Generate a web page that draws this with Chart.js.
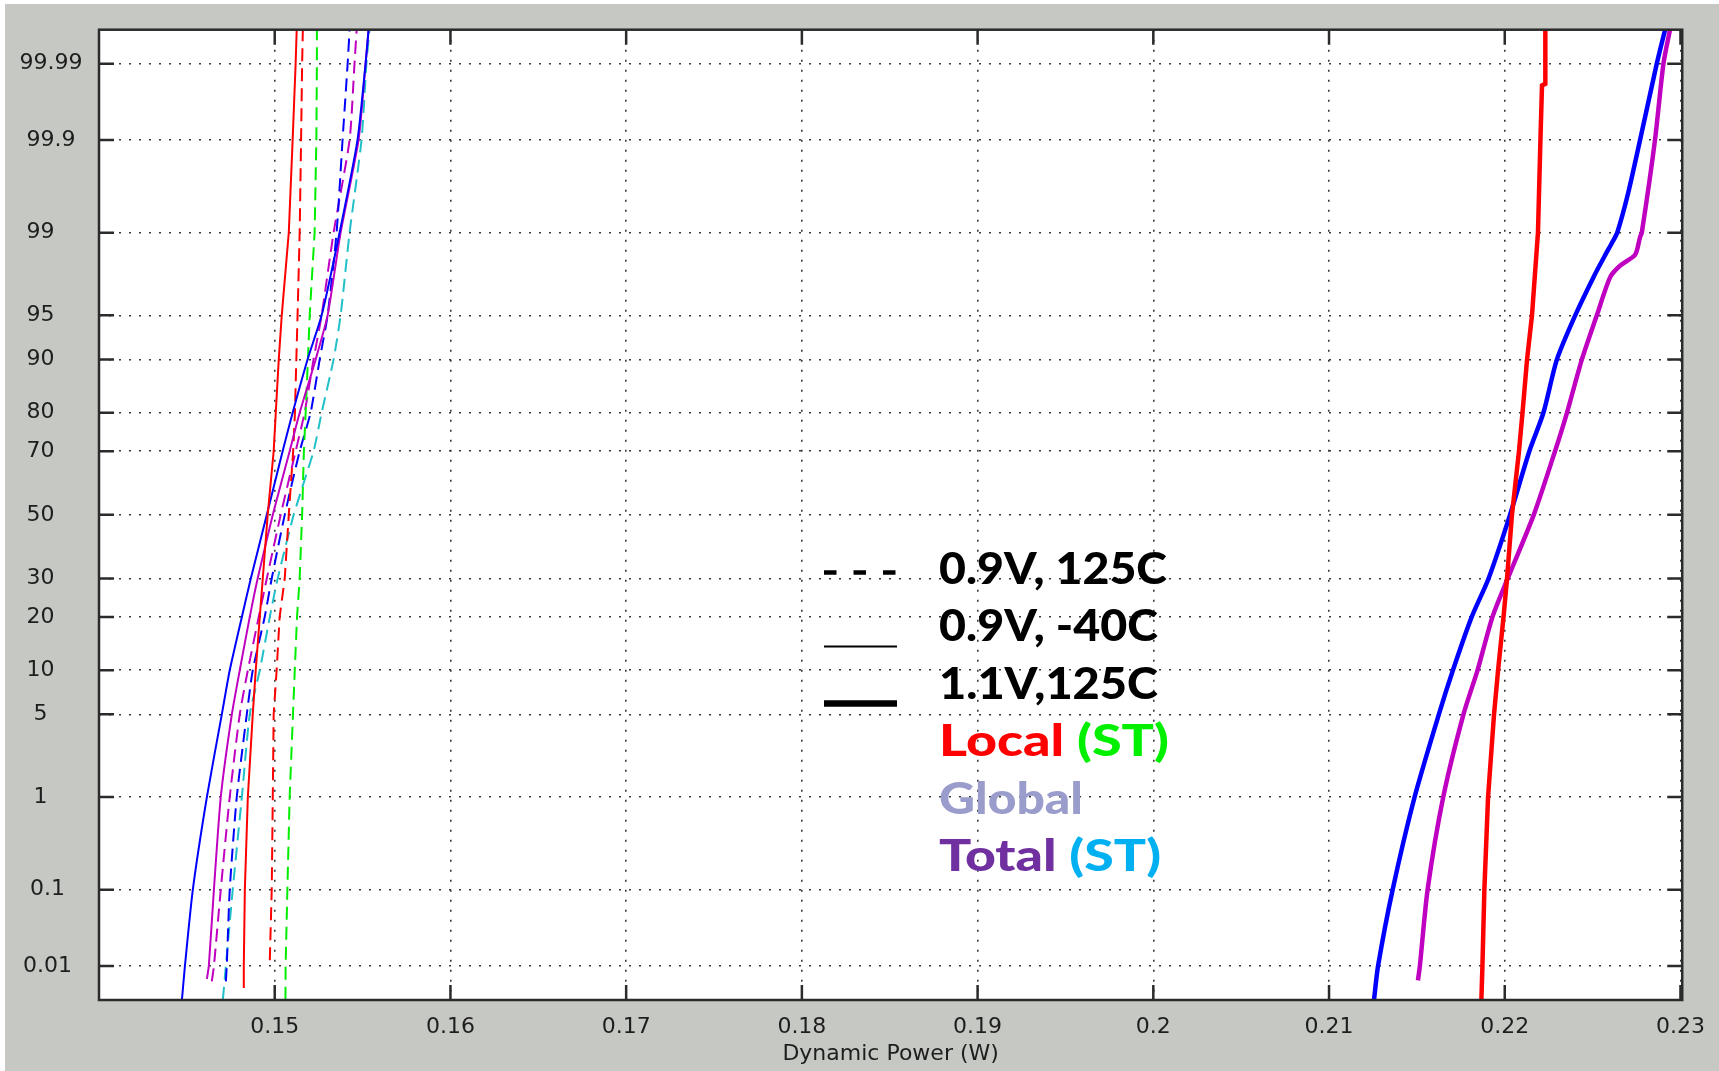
<!DOCTYPE html>
<html>
<head>
<meta charset="utf-8">
<title>Dynamic Power distribution</title>
<script src="https://cdn.jsdelivr.net/npm/chart.js@4.4.0/dist/chart.umd.min.js"></script>
<style>
  html, body { margin: 0; padding: 0; background: #ffffff; }
  #wrap { position: relative; width: 1719px; height: 1071px; }
  canvas { display: block; }
</style>
</head>
<body>
<div id="wrap"><canvas id="chart" width="1719" height="1071"></canvas></div>
<script>
// ---- axis ticks ----
const probTicks = [0.01, 0.1, 1, 5, 10, 20, 30, 50, 70, 80, 90, 95, 99, 99.9, 99.99];
// labels carry trailing blanks, as written by the original plot tool
const probTickLabels = ['0.01 ', '0.1 ', '1   ', '5   ', '10   ', '20   ', '30   ', '50   ',
                        '70   ', '80   ', '90   ', '95   ', '99   ', '99.9', '99.99'];
const powerTicks = [0.15, 0.16, 0.17, 0.18, 0.19, 0.2, 0.21, 0.22, 0.23];
const powerTickLabels = ['0.15', '0.16', '0.17', '0.18', '0.19', '0.2', '0.21', '0.22', '0.23'];

// ---- cumulative probability (%) / dynamic power (W) ----
const pctFull = [0.0032, 0.01, 0.1, 1, 5, 10, 20, 30, 50, 70, 80, 90, 95, 99, 99.9, 99.99, 99.9968];

// 0.9V, 125C (dashed)
const pctLocalHot = [0.012, 0.1, 1, 5, 10, 20, 30, 50, 70, 80, 90, 95, 99, 99.9, 99.99, 99.9968];
const wLocalHot = [0.14972, 0.14983, 0.14989, 0.14994, 0.15011, 0.15028, 0.15057, 0.15080,
                   0.15105, 0.15115, 0.15123, 0.15130, 0.15142, 0.15150, 0.15156, 0.15160];
const wLocalStHot = [0.15061, 0.15062, 0.15072, 0.15085, 0.15104, 0.15114, 0.15127, 0.15142, 0.15156,
                     0.15166, 0.15176, 0.15189, 0.15199, 0.15227, 0.15237, 0.15240, 0.15240];
const pctGlobalHot = [0.006, 0.01, 0.1, 1, 5, 10, 20, 30, 50, 70, 80, 90, 95, 99, 99.9, 99.99, 99.9968];
const wGlobalHot = [0.14722, 0.14727, 0.14744, 0.14784, 0.14841, 0.14875, 0.14943, 0.14983, 0.15057,
                    0.15142, 0.15204, 0.15256, 0.15301, 0.15352, 0.15386, 0.15415, 0.15426];
const pctTotalHot = [0.006, 0.01, 0.1, 1, 5, 10, 20, 30, 50, 70, 80, 90, 95, 99, 99.9, 99.99, 99.9968];
const wTotalHot = [0.14642, 0.14654, 0.14693, 0.14744, 0.14801, 0.14847, 0.14909, 0.14955, 0.15034,
                   0.15119, 0.15170, 0.15221, 0.15267, 0.15335, 0.15426, 0.15454, 0.15466];
const wTotalStHot = [0.14705, 0.14722, 0.14761, 0.14813, 0.14858, 0.14915, 0.14972, 0.15017, 0.15108,
                     0.15221, 0.15267, 0.15335, 0.15375, 0.15426, 0.15494, 0.15522, 0.15539];

// 0.9V, -40C (thin solid)
const pctLocalCold = [0.0048, 0.01, 0.1, 1, 5, 10, 20, 30, 50, 70, 80, 90, 95, 99, 99.9, 99.99, 99.9968];
const wLocalCold = [0.14824, 0.14824, 0.14830, 0.14847, 0.14875, 0.14892, 0.14915, 0.14932, 0.14960,
                    0.14994, 0.15006, 0.15023, 0.15040, 0.15080, 0.15102, 0.15119, 0.15125];
const wGlobalCold = [0.14472, 0.14489, 0.14534, 0.14614, 0.14699, 0.14744, 0.14813, 0.14864, 0.14955,
                     0.15045, 0.15102, 0.15187, 0.15267, 0.15369, 0.15471, 0.15517, 0.15534];
const pctTotalCold = [0.0065, 0.01, 0.1, 1, 5, 10, 20, 30, 50, 70, 80, 90, 95, 99, 99.9, 99.99, 99.9968];
const wTotalCold = [0.14614, 0.14625, 0.14654, 0.14693, 0.14756, 0.14801, 0.14858, 0.14903, 0.14989,
                    0.15085, 0.15142, 0.15233, 0.15301, 0.15375, 0.15477, 0.15517, 0.15534];

// 1.1V, 125C (thick solid)
const pctLocalHv = [0.0032, 0.01, 0.1, 1, 5, 10, 20, 30, 50, 70, 80, 90, 95, 99, 99.9, 99.98, 99.981, 99.9968];
const wLocalHv = [0.21867, 0.21873, 0.21884, 0.21905, 0.21939, 0.21962, 0.21993, 0.22013, 0.22041,
                  0.22081, 0.22101, 0.22127, 0.22155, 0.22189, 0.22203, 0.22212, 0.22231, 0.22231];
const pctGlobalHv = [0.0032, 0.01, 0.1, 1, 5, 10, 20, 30, 50, 70, 80, 90, 95, 97.5, 98.35, 98.77, 99, 99.6, 99.9, 99.99, 99.9968];
const wGlobalHv = [0.21256, 0.21279, 0.21362, 0.21487, 0.21625, 0.21705, 0.21812, 0.21908, 0.22030, 0.22140,
                   0.22220, 0.22297, 0.22401, 0.22505, 0.22568, 0.22612, 0.22640, 0.22702, 0.22770, 0.22865, 0.22912];
const pctTotalHv = [0.0062, 0.01, 0.1, 1, 5, 10, 20, 30, 50, 70, 80, 90, 95, 97.5, 98, 98.4, 98.9, 99, 99.9, 99.99, 99.9968];
const wTotalHv = [0.21506, 0.21517, 0.21561, 0.21650, 0.21765, 0.21845, 0.21930, 0.22017, 0.22165, 0.22286, 0.22354,
                  0.22439, 0.22524, 0.22600, 0.22656, 0.22742, 0.22770, 0.22780, 0.22855, 0.22903, 0.22940];

// ---- legend text ----
const legendStyleText = ['0.9V, 125C', '0.9V, -40C', '1.1V,125C'];
const legendColorText = [
  [['Local ', '#ff0000'], ['(ST)', '#00f000']],
  [['Global', '#9a9dcc']],
  [['Total ', '#7030a0'], ['(ST)', '#00b0f0']]
];

const RED = '#ff0000', GREEN = '#00ee00', BLUE = '#0000ff', MAGENTA = '#c000c0', CYAN = '#20c0c8';
const DASH = [13, 7];

// ---- normal probability helpers ----
function probit(p) {
  const a = [-3.969683028665376e+01, 2.209460984245205e+02, -2.759285104469687e+02,
             1.383577518672690e+02, -3.066479806614716e+01, 2.506628277459239e+00];
  const b = [-5.447609879822406e+01, 1.615858368580409e+02, -1.556989798598866e+02,
             6.680131188771972e+01, -1.328068155288572e+01];
  const c = [-7.784894002430293e-03, -3.223964580411365e-01, -2.400758277161838e+00,
             -2.549732539343734e+00, 4.374664141464968e+00, 2.938163982698783e+00];
  const d = [7.784695709041462e-03, 3.224671290700398e-01, 2.445134137142996e+00, 3.754408661907416e+00];
  const pl = 0.02425, ph = 1 - pl;
  if (p <= 0) return -Infinity;
  if (p >= 1) return Infinity;
  let q, r;
  if (p < pl) {
    q = Math.sqrt(-2 * Math.log(p));
    return (((((c[0]*q + c[1])*q + c[2])*q + c[3])*q + c[4])*q + c[5]) / ((((d[0]*q + d[1])*q + d[2])*q + d[3])*q + 1);
  }
  if (p > ph) {
    q = Math.sqrt(-2 * Math.log(1 - p));
    return -(((((c[0]*q + c[1])*q + c[2])*q + c[3])*q + c[4])*q + c[5]) / ((((d[0]*q + d[1])*q + d[2])*q + d[3])*q + 1);
  }
  q = p - 0.5; r = q * q;
  return (((((a[0]*r + a[1])*r + a[2])*r + a[3])*r + a[4])*r + a[5]) * q /
         (((((b[0]*r + b[1])*r + b[2])*r + b[3])*r + b[4])*r + 1);
}
function normCdf(z) {
  const t = 1 / (1 + 0.2316419 * Math.abs(z));
  const poly = t * (0.319381530 + t * (-0.356563782 + t * (1.781477937 + t * (-1.821255978 + t * 1.330274429))));
  const tail = Math.exp(-z * z / 2) / Math.sqrt(2 * Math.PI) * poly;
  return z >= 0 ? 1 - tail : tail;
}

// Normal-probability axis: values are percentages, spacing is linear in the normal quantile.
class ProbabilityScale extends Chart.LinearScale {
  determineDataLimits() {
    this.min = probit(this.options.min / 100);
    this.max = probit(this.options.max / 100);
  }
  buildTicks() {
    return probTicks.map(v => ({ value: v }));
  }
  getPixelForValue(value) {
    if (value === null || value === undefined || isNaN(value)) return NaN;
    return this.getPixelForDecimal((probit(value / 100) - this._startValue) / this._valueRange);
  }
  getValueForPixel(pixel) {
    return 100 * normCdf(this._startValue + this.getDecimalForPixel(pixel) * this._valueRange);
  }
}
ProbabilityScale.id = 'probability';
ProbabilityScale.defaults = {};
Chart.register(ProbabilityScale);

function pairs(pcts, watts) {
  return watts.map((w, i) => ({ x: w, y: pcts[i] }));
}
function line(label, pcts, watts, color, width, dash, tension) {
  return {
    label, data: pairs(pcts, watts), borderColor: color, borderWidth: width,
    borderDash: dash || [], pointRadius: 0, fill: false, tension: tension || 0
  };
}

const datasets = [
  line('Local 1.1V,125C', pctLocalHv, wLocalHv, RED, 4.5),
  line('Global 1.1V,125C', pctGlobalHv, wGlobalHv, BLUE, 4.5, null, 0.25),
  line('Total 1.1V,125C', pctTotalHv, wTotalHv, MAGENTA, 4.5, null, 0.25),
  line('Local 0.9V,-40C', pctLocalCold, wLocalCold, RED, 2),
  line('Global 0.9V,-40C', pctFull, wGlobalCold, BLUE, 2, null, 0.2),
  line('Total 0.9V,-40C', pctTotalCold, wTotalCold, MAGENTA, 2, null, 0.2),
  line('Local 0.9V,125C', pctLocalHot, wLocalHot, RED, 2, DASH),
  line('Local (ST) 0.9V,125C', pctFull, wLocalStHot, GREEN, 2, DASH),
  line('Global 0.9V,125C', pctGlobalHot, wGlobalHot, BLUE, 2, DASH, 0.2),
  line('Total 0.9V,125C', pctTotalHot, wTotalHot, MAGENTA, 2, DASH, 0.2),
  line('Total (ST) 0.9V,125C', pctFull, wTotalStHot, CYAN, 2, DASH, 0.2)
];

// figure background and white plotting box
const backdrop = {
  id: 'backdrop',
  beforeDraw(chart) {
    const { ctx, width, height, chartArea: a } = chart;
    ctx.save();
    ctx.fillStyle = '#ffffff';
    ctx.fillRect(0, 0, width, height);
    ctx.fillStyle = '#c6c9c3';
    ctx.fillRect(5, 4, width - 5, height - 4);
    ctx.fillStyle = '#ffffff';
    ctx.fillRect(a.left, a.top, a.right - a.left, a.bottom - a.top);
    ctx.restore();
  }
};

// box frame with inward tick marks on all four sides
const frame = {
  id: 'frame',
  afterDatasetsDraw(chart) {
    const { ctx, chartArea: a, scales: { x, y } } = chart;
    const len = 15;
    ctx.save();
    ctx.setLineDash([]);
    ctx.strokeStyle = '#2b2b2b';
    ctx.lineWidth = 2.5;
    ctx.beginPath();
    x.ticks.forEach(t => {
      const px = x.getPixelForValue(t.value);
      ctx.moveTo(px, a.bottom); ctx.lineTo(px, a.bottom - len);
      ctx.moveTo(px, a.top); ctx.lineTo(px, a.top + len);
    });
    y.ticks.forEach(t => {
      const py = y.getPixelForValue(t.value);
      ctx.moveTo(a.left, py); ctx.lineTo(a.left + len, py);
      ctx.moveTo(a.right, py); ctx.lineTo(a.right - len, py);
    });
    ctx.stroke();
    ctx.strokeRect(a.left, a.top, a.right - a.left, a.bottom - a.top);
    ctx.restore();
  }
};

// line-style key and colour key (each text row is fitted to its set width)
const keyBox = {
  id: 'keyBox',
  afterDraw(chart) {
    const { ctx } = chart;
    const x0 = 824, x1 = 897, tx = 939, base = 584, step = 57.4;
    const rowWidths = [228, 219, 219, 230, 144, 222];
    ctx.save();
    ctx.strokeStyle = '#000000';
    ctx.lineCap = 'butt';
    ctx.lineWidth = 4.5; ctx.setLineDash([12.5, 17]);
    ctx.beginPath(); ctx.moveTo(x0, 572.5); ctx.lineTo(x1, 572.5); ctx.stroke();
    ctx.setLineDash([]);
    ctx.lineWidth = 2;
    ctx.beginPath(); ctx.moveTo(x0, 646.5); ctx.lineTo(x1, 646.5); ctx.stroke();
    ctx.lineWidth = 6.5;
    ctx.beginPath(); ctx.moveTo(x0, 703.5); ctx.lineTo(x1, 703.5); ctx.stroke();

    ctx.font = '900 43px Lato';
    ctx.textAlign = 'left';
    ctx.textBaseline = 'alphabetic';
    const rows = legendStyleText.map(t => [[t, '#000000']]).concat(legendColorText);
    rows.forEach((parts, i) => {
      const full = parts.map(p => p[0]).join('');
      const sx = rowWidths[i] / ctx.measureText(full).width;
      ctx.save();
      ctx.translate(tx, base + i * step);
      ctx.scale(sx, 1);
      let x = 0;
      parts.forEach(([t, c]) => {
        ctx.fillStyle = c;
        ctx.fillText(t, x, 0);
        x += ctx.measureText(t).width;
      });
      ctx.restore();
    });
    ctx.restore();
  }
};

new Chart(document.getElementById('chart'), {
  type: 'line',
  data: { datasets },
  plugins: [backdrop, frame, keyBox],
  options: {
    responsive: false,
    animation: false,
    devicePixelRatio: 1,
    events: [],
    layout: { padding: { left: 5, top: 28, right: 33, bottom: 0 } },
    plugins: { legend: { display: false }, tooltip: { enabled: false } },
    scales: {
      x: {
        type: 'linear',
        min: 0.14,
        max: 0.2301,
        afterBuildTicks: (axis) => { axis.ticks = powerTicks.map(v => ({ value: v })); },
        afterFit: (axis) => { axis.height = 71; },
        grid: { color: '#3a3a3a', lineWidth: 1.6, drawTicks: false },
        border: { display: false, dash: [2, 8] },
        ticks: {
          autoSkip: false, maxRotation: 0, padding: 14,
          color: '#1e1e1e', font: { family: 'DejaVu Sans', size: 22 },
          callback: (v, i) => powerTickLabels[i]
        },
        title: {
          display: true, text: 'Dynamic Power (W)', color: '#1e1e1e',
          font: { family: 'DejaVu Sans', size: 22 }, padding: { top: 0, bottom: 4 }
        }
      },
      y: {
        type: 'probability',
        min: 0.0031671,
        max: 99.9968329,
        afterFit: (axis) => { axis.width = 94; },
        grid: { color: '#3a3a3a', lineWidth: 1.6, drawTicks: false },
        border: { display: false, dash: [2, 8] },
        ticks: {
          autoSkip: false, crossAlign: 'center', padding: 16.5,
          color: '#1e1e1e', font: { family: 'DejaVu Sans', size: 22 },
          callback: (v, i) => probTickLabels[i]
        }
      }
    }
  }
});
</script>
</body>
</html>
